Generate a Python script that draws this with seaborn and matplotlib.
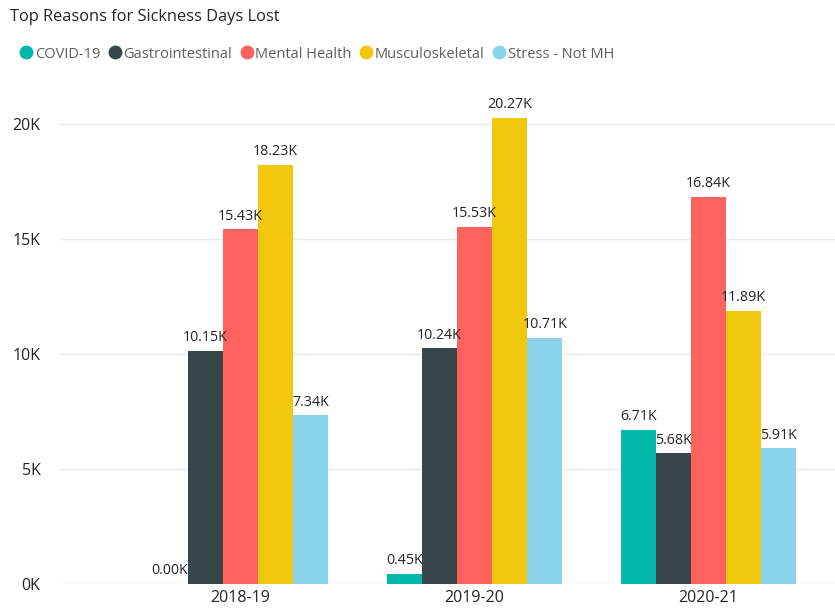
import pandas as pd
import matplotlib.pyplot as plt
import seaborn as sns
from matplotlib.lines import Line2D

# Data
years = ["2018-19", "2019-20", "2020-21"]
reasons = ["COVID-19", "Gastrointestinal", "Mental Health", "Musculoskeletal", "Stress - Not MH"]
covid = [0, 450, 6710]
gastro = [10150, 10240, 5680]
mental = [15430, 15530, 16840]
musculo = [18230, 20270, 11890]
stress = [7340, 10710, 5910]
y_ticks = [0, 5000, 10000, 15000, 20000]
y_tick_labels = ["0K", "5K", "10K", "15K", "20K"]

colors = ["#01B8AA", "#374649", "#FD625E", "#F2C80F", "#8AD4EB"]

rows = []
for reason, vals in zip(reasons, [covid, gastro, mental, musculo, stress]):
    for year, v in zip(years, vals):
        rows.append({"year": year, "reason": reason, "days": v})
df = pd.DataFrame(rows)

sns.set_style("white")
plt.rcParams['font.family'] = ['Open Sans', 'DejaVu Sans']

W, H = 835, 612
fig = plt.figure(figsize=(W / 100, H / 100), dpi=100)
ax = fig.add_axes([60 / W, (H - 584) / H, (W - 60) / W, (584 - 78) / H])

sns.barplot(data=df, x="year", y="days", hue="reason", order=years, hue_order=reasons,
            palette=colors, width=0.75, gap=0, ax=ax, legend=False, saturation=1,
            linewidth=0)

for container in ax.containers:
    ax.bar_label(container, labels=[f"{b.get_height() / 1000:.2f}K" for b in container],
                 padding=4, fontsize=10.3, color="#252423")

ax.set_ylim(0, 22000)
ax.set_xlim(-0.77, 2.54)
ax.set_yticks(y_ticks)
ax.set_yticklabels(y_tick_labels)
ax.yaxis.grid(True, color="#EAEAEA", linewidth=1)
ax.set_axisbelow(True)
for s in ax.spines.values():
    s.set_visible(False)
ax.tick_params(axis="both", length=0, labelsize=11.5, labelcolor="#252423")
ax.tick_params(axis="y", pad=14)
ax.tick_params(axis="x", pad=4)
ax.set_xlabel("")
ax.set_ylabel("")

fig.text(10 / W, 1 - 17 / H, "Top Reasons for Sickness Days Lost", fontsize=11.8,
         color="#252423", va="center", ha="left")

handles = [Line2D([0], [0], marker="o", linestyle="", markersize=9,
                  markerfacecolor=c, markeredgecolor=c) for c in colors]
fig.legend(handles, reasons, loc="center left", bbox_to_anchor=(4 / W, 1 - 54 / H),
           ncol=5, frameon=False, fontsize=10.5, handletextpad=0.0,
           columnspacing=0.4, handlelength=1.2, labelcolor="#605E5C")

fig.savefig("out.png", dpi=100)
